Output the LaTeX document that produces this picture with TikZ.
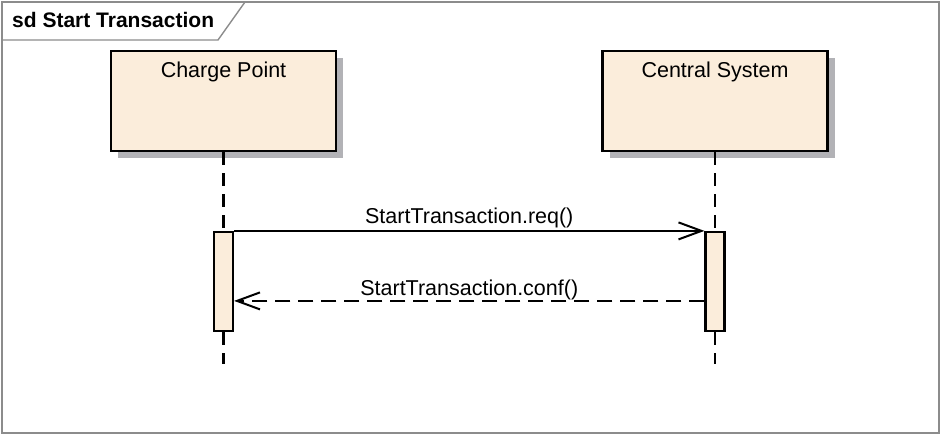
\documentclass[tikz,border=0pt]{standalone}
\usepackage{fontspec}
\setmainfont{Liberation Sans}
\usepackage{xcolor}
\usepackage{tikz}
\usetikzlibrary{positioning,shadows,arrows.meta}
\definecolor{lifefill}{RGB}{251,237,219}
\definecolor{framegray}{RGB}{140,140,140}
\definecolor{shadegray}{RGB}{178,178,182}

\begin{document}
\begin{tikzpicture}[x=1pt,y=-1pt,
    font=\fontsize{21.5}{25}\selectfont,
    lifebox/.style={draw, line width=2.2pt, fill=lifefill, anchor=north,
        minimum width=225pt, minimum height=100pt,
        drop shadow={shadow xshift=7pt, shadow yshift=-7pt, fill=shadegray, opacity=1}},
    boxname/.style={anchor=north, inner sep=0pt, yshift=-12pt},
    actbar/.style={draw, line width=2.2pt, fill=lifefill, minimum width=19pt, minimum height=99pt, inner sep=0pt},
    lifeline/.style={line width=2.2pt, dash pattern=on 13pt off 8pt},
    msg/.style={line width=2pt, -{Straight Barb[length=23pt,width=17pt,line width=2pt]}},
    reply/.style={msg, dash pattern=on 15pt off 8pt}]
    \useasboundingbox (0,0) rectangle (944,438);

    % Frame with title tab
    \draw [framegray, line width=1.4pt] (2,2) rectangle (939,433);
    \draw [framegray, line width=1.4pt] (2,40) -- (218,40) -- (245,2);
    \node [anchor=base west, inner sep=0pt, font=\fontsize{21}{25}\selectfont\bfseries] (title) at (12,27.3) {sd Start Transaction};

    % Lifelines
    \node [lifebox, label={[boxname]north:Charge Point}] (cp) at (223.5,50) {};
    \node [lifebox, label={[boxname]north:Central System}] (cs) at (715,50) {};
    \coordinate (cpend) at (223.5,364);
    \coordinate (csend) at (715,364);

    % Activations
    \node [actbar] (cpact) at (223.5,281.5) {};
    \node [actbar] (csact) at (715,281.5) {};
    \draw [lifeline] (cp.south) -- (cpact.north);
    \draw [lifeline] (cpact.south) -- (cpend);
    \draw [lifeline] (cs.south) -- (csact.north);
    \draw [lifeline] (csact.south) -- (csend);

    % Messages
    \draw [msg] (cpact.north east) -- (csact.north west)
        node [midway, above=1.5pt, inner sep=0pt] (req) {StartTransaction.req()};
    \draw [reply] ([yshift=-70pt]csact.north west) -- ([yshift=-70pt]cpact.north east)
        node [midway, above=0pt, inner sep=0pt] (conf) {StartTransaction.conf()};
\end{tikzpicture}
\end{document}
